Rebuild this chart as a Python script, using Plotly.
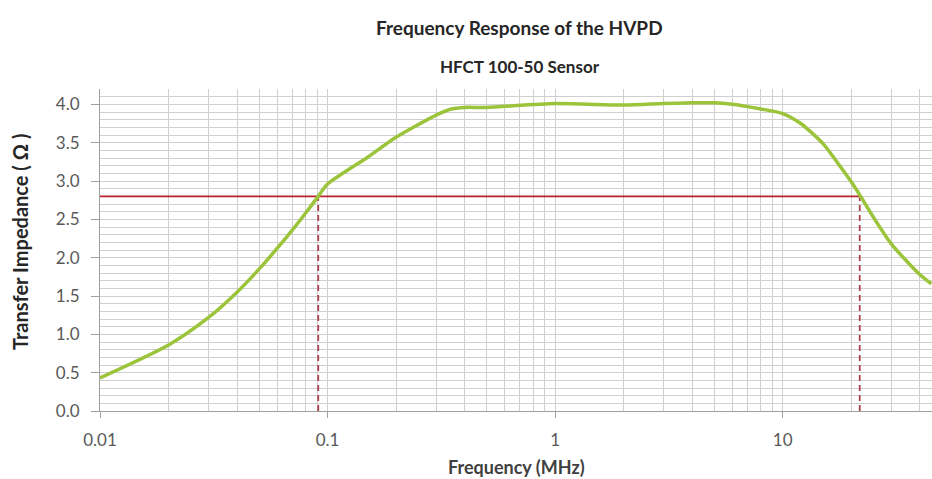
import plotly.graph_objects as go
import math

# Data
freq_mhz = [0.01, 0.02, 0.03, 0.04, 0.05, 0.06, 0.07, 0.08, 0.09, 0.1, 0.15, 0.2, 0.3, 0.35, 0.4, 0.5,
            1, 2, 3, 4, 5, 6, 7, 8, 10, 12, 15, 18, 20, 22, 25, 30, 40, 45]
impedance = [0.43, 0.86, 1.22, 1.55, 1.85, 2.12, 2.36, 2.58, 2.78, 2.96, 3.31, 3.57, 3.86, 3.94, 3.96, 3.96,
             4.01, 3.99, 4.01, 4.02, 4.02, 4.00, 3.97, 3.94, 3.88, 3.75, 3.49, 3.18, 2.99, 2.80, 2.53,
             2.18, 1.78, 1.66]
level = 2.8
cutoff_low = 0.091
cutoff_high = 21.8
x_tick_vals = [0.01, 0.1, 1, 10]
x_tick_text = ["0.01", "0.1", "1", "10"]
x_minor_vals = [m * d for d in [0.01, 0.1, 1, 10] for m in range(2, 10) if m * d <= 45]

font_family = "Lato, 'Open Sans', sans-serif"
grid_col = "#cfcfcf"
W, H = 932, 479
M_L, M_R, M_T, M_B = 100, 0, 89, 68
plot_h = H - M_T - M_B
plot_w = W - M_L - M_R


def py(pix):
    return (H - M_B - pix) / plot_h


def px(pix):
    return (pix - M_L) / plot_w


fig = go.Figure()

# horizontal level line
fig.add_trace(go.Scatter(x=[freq_mhz[0], cutoff_high], y=[level, level], mode="lines",
                         line=dict(color="#b8232b", width=1.6), hoverinfo="skip", showlegend=False))
# vertical dashed cut-off lines
for c in [cutoff_low, cutoff_high]:
    fig.add_trace(go.Scatter(x=[c, c], y=[0, level], mode="lines",
                             line=dict(color="#a8434c", width=1.8, dash="6px,4px"),
                             hoverinfo="skip", showlegend=False))

fig.add_trace(go.Scatter(x=freq_mhz, y=impedance, mode="lines",
                         line=dict(color="#9cc43a", width=3.5, shape="spline", smoothing=0.7),
                         showlegend=False))

fig.update_layout(
    width=W, height=H,
    margin=dict(l=M_L, r=M_R, t=M_T, b=M_B),
    paper_bgcolor="white", plot_bgcolor="white",
    font=dict(family=font_family, color="#404040"),
    annotations=[
        dict(text="<b>Frequency Response of the HVPD</b>", x=px(519), y=py(28), xref="paper", yref="paper",
             xanchor="center", yanchor="middle", showarrow=False, font=dict(size=19, color="#262626")),
        dict(text="<b>HFCT 100-50 Sensor</b>", x=px(520), y=py(66), xref="paper", yref="paper",
             xanchor="center", yanchor="middle", showarrow=False, font=dict(size=17, color="#262626")),
        dict(text="<b>Frequency (MHz)</b>", x=px(516), y=py(467), xref="paper", yref="paper",
             xanchor="center", yanchor="middle", showarrow=False, font=dict(size=18, color="#404040")),
        dict(text="<b>Transfer Impedance ( Ω )</b>", x=px(20), y=py(242), xref="paper", yref="paper",
             xanchor="center", yanchor="middle", textangle=-90, showarrow=False,
             font=dict(size=20, color="#262626")),
    ],
)

fig.update_xaxes(
    type="log", range=[math.log10(0.01), math.log10(45.3)],
    tickvals=x_tick_vals, ticktext=x_tick_text,
    tickfont=dict(size=17, color="#595959"),
    showgrid=True, gridcolor=grid_col, gridwidth=1,
    minor=dict(tickvals=x_minor_vals, showgrid=True, gridcolor=grid_col, gridwidth=1, ticks=""),
    ticks="outside", ticklen=6, tickcolor="#a0a0a0", ticklabelstandoff=8,
    showline=True, linecolor="#a0a0a0", linewidth=1,
    zeroline=False,
)
fig.update_yaxes(
    range=[0, 4.2], tick0=0, dtick=0.5, tickformat=".1f",
    tickfont=dict(size=17, color="#595959"),
    showgrid=True, gridcolor=grid_col, gridwidth=1,
    minor=dict(dtick=0.1, showgrid=True, gridcolor=grid_col, gridwidth=1, ticks=""),
    ticks="outside", ticklen=8, tickcolor="#a0a0a0", ticklabelstandoff=8,
    showline=True, linecolor="#a0a0a0", linewidth=1,
    zeroline=False,
)

fig.write_html("out.html")
